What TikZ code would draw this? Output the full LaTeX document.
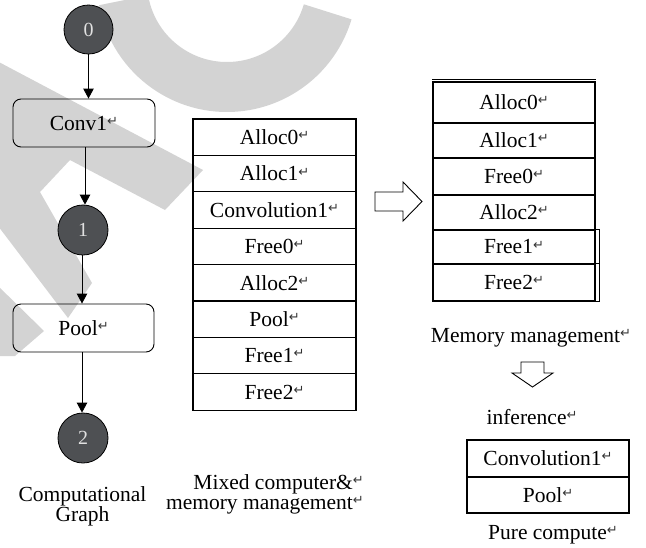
\documentclass[tikz,border=0pt]{standalone}
\usepackage{fontspec}
\setmainfont{Liberation Serif}
\newfontfamily\retglyphfont{DejaVu Sans}
\usetikzlibrary{arrows.meta}
\definecolor{wmgray}{RGB}{211,211,211}
\definecolor{nodefill}{RGB}{78,80,83}
\definecolor{nodetext}{RGB}{225,225,225}
% small raised return mark printed after each label
\newcommand\retmark{\raisebox{0.5ex}{\retglyphfont\fontsize{13}{13}\selectfont\color{black!80}↵}}

\begin{document}
\begin{tikzpicture}[x=1pt, y=-1pt,
  font=\fontsize{21.5}{19}\selectfont,
  graphnode/.style={circle, draw=black, line width=0.8pt, fill=nodefill,
    text=nodetext, minimum size=50pt, inner sep=0pt,
    font=\fontsize{20}{20}\selectfont},
  opbox/.style={draw, rounded corners=8pt, line width=0.9pt,
    minimum width=142pt, minimum height=48pt, inner sep=0pt},
  cell/.style={draw, line width=1.2pt, minimum width=163pt,
    minimum height=36.4pt, inner sep=0pt, anchor=center},
  rcell/.style={draw, line width=1.1pt, minimum width=162pt,
    inner sep=0pt, minimum height=#1},
  flow/.style={-{Triangle[length=10pt,width=10.5pt]}, line width=0.9pt},
  hollow/.style={draw, line width=0.9pt, fill=white, line join=miter},
  caption/.style={inner sep=0pt}
]
\useasboundingbox (0,0) rectangle (646,547);

% background watermark letters
\begin{scope}
  \clip (0,0) rectangle (646,547);
  \draw[wmgray, line width=50pt] (227,-18) ++(170:105)
    arc[start angle=170, end angle=16.5, radius=105];
  \fill[wmgray] (-5,60) -- (203,170) -- (165,210) -- (70,160) -- (40,192)
    -- (92,283) -- (68,318) -- (-5,222) -- cycle;
  \fill[wmgray] (-5,283) -- (44,331) -- (15,356) -- (-5,356) -- cycle;
\end{scope}

% computational graph
\node[graphnode, minimum size=49pt] (c0) at (88.5,29.5) {0};
\node[opbox] (conv1) at (84,123) {Conv1\retmark};
\node[graphnode] (c1) at (83,230) {1};
\node[opbox, minimum width=141pt] (pool) at (83.5,328) {Pool\retmark};
\node[graphnode] (c2) at (83,438) {2};

\draw[flow] (c0.south) -- (c0.south |- conv1.north);
\draw[flow] ([xshift=1pt]conv1.south) -- ([xshift=1pt]conv1.south |- c1.north);
\draw[flow] ([xshift=-1pt]c1.south) -- ([xshift=-1pt]c1.south |- pool.north);
\draw[flow] ([xshift=-1.5pt]pool.south) -- ([xshift=-1.5pt]pool.south |- c2.north);

\node[caption, anchor=base] (cgcap1) at (82.5,501) {Computational};
\node[caption, anchor=base] (cgcap2) at (82.5,521) {Graph};

% mixed compute and memory schedule
\node[cell] (m1) at (274.5,137.2) {Alloc0\retmark};
\node[cell] (m2) at (274.5,173.6) {Alloc1\retmark};
\node[cell] (m3) at (274.5,210.0) {Convolution1\retmark};
\node[cell] (m4) at (274.5,246.4) {Free0\retmark};
\node[cell] (m5) at (274.5,282.8) {Alloc2\retmark};
\node[cell] (m6) at (274.5,319.2) {Pool\retmark};
\node[cell] (m7) at (274.5,355.6) {Free1\retmark};
\node[cell] (m8) at (274.5,392.0) {Free2\retmark};
\node[caption, anchor=base east] (mixcap1) at (364,489) {Mixed computer\&\retmark};
\node[caption, anchor=base east] (mixcap2) at (364,509) {memory management\retmark};

% arrow to the memory-only schedule
\draw[hollow] (375,192) -- (403,192) -- (403,182) -- (422,201.5)
  -- (403,221) -- (403,211) -- (375,211) -- cycle;

% memory management schedule
\node[rcell=41pt] (r1) at (514,102.5) {Alloc0\retmark};
\node[rcell=35pt] (r2) at (514,140.5) {Alloc1\retmark};
\node[rcell=37pt] (r3) at (514,176.5) {Free0\retmark};
\node[rcell=35pt] (r4) at (514,212.5) {Alloc2\retmark};
\node[rcell=34pt] (r5) at (514,247) {Free1\retmark};
\node[rcell=37pt] (r6) at (514,282.5) {Free2\retmark};
\draw[line width=0.8pt] ([yshift=2.2pt]r1.north west) -- ([yshift=2.2pt]r1.north east);
\draw[line width=1.6pt] (r1.south west) -- (r1.south east);
\draw[line width=0.8pt] (r5.north east) -- ++(3.5,0) |- (r6.south east);
\draw[line width=0.8pt] (r6.north east) -- ++(3.5,0);
\node[caption] (memcap) at (531,338) {Memory management\retmark};

% arrow down to inference
\draw[hollow] (521,362) -- (544,362) -- (544,373) -- (553,373) -- (532.5,387)
  -- (512,373) -- (521,373) -- cycle;
\node[caption] (infcap) at (532,417) {inference\retmark};

% pure compute schedule
\node[rcell=37pt] (p1) at (548,458.5) {Convolution1\retmark};
\node[rcell=36pt] (p2) at (548,495) {Pool\retmark};
\node[caption] (purecap) at (553,535) {Pure compute\retmark};
\end{tikzpicture}
\end{document}
